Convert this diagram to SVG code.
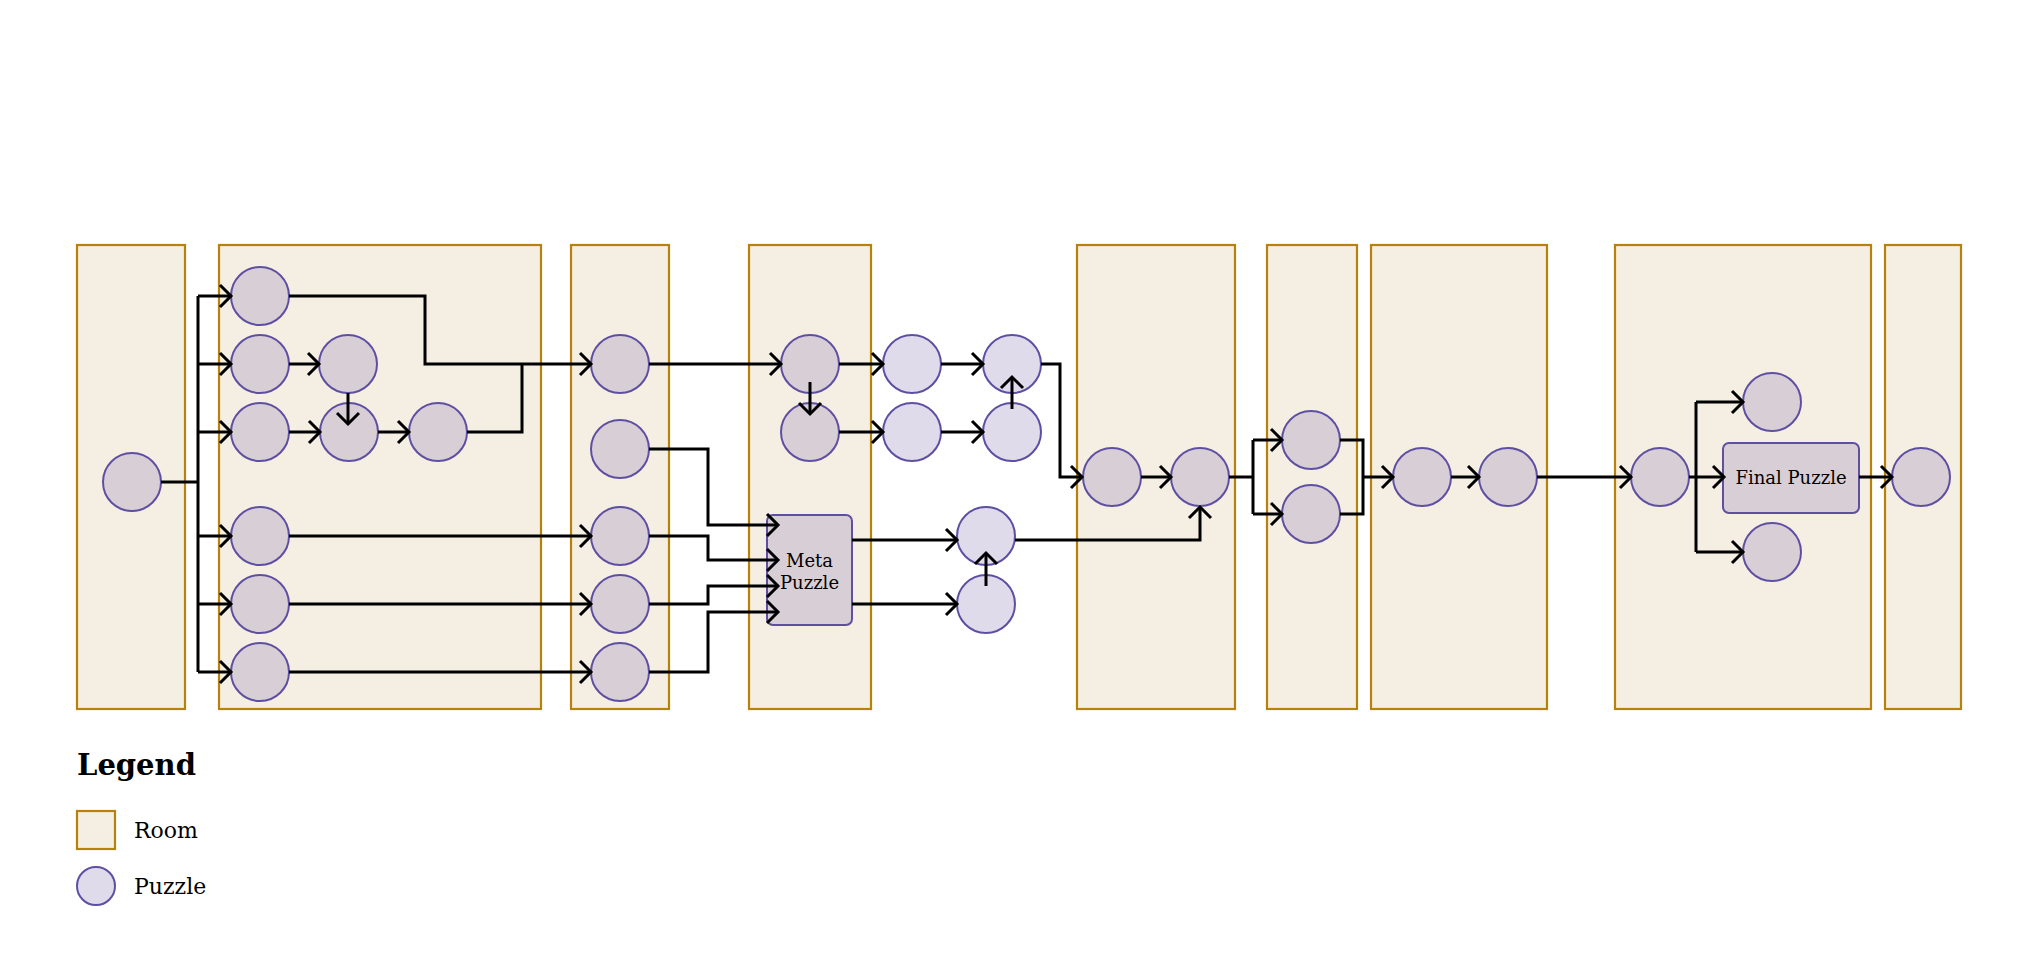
<svg xmlns="http://www.w3.org/2000/svg" width="2040" height="974" viewBox="0 0 2040 974">
<style>
.room{fill:#f5eee2;stroke:#b8820a;stroke-width:2.2}
.pz{fill:#d8cfd6;stroke:#5e4fa2;stroke-width:2}
.pzo{fill:#e0dbeb;stroke:#5e4fa2;stroke-width:2}
.ln{fill:none;stroke:#000;stroke-width:3}
.ar{marker-end:url(#arr)}
.t{font-family:"DejaVu Serif","Liberation Serif",serif;fill:#000}
</style>
<defs>
<marker id="arr" markerUnits="userSpaceOnUse" viewBox="-14 -14 16 28" markerWidth="16" markerHeight="28" refX="0" refY="0" orient="auto" overflow="visible">
<path d="M-11,-11 L0,0 L-11,11" fill="none" stroke="#000" stroke-width="3"/>
</marker>
</defs>
<rect width="2040" height="974" fill="#fff"/>
<g id="rooms">
<rect id="room1" class="room" x="77" y="245" width="108" height="464"/>
<rect id="room2" class="room" x="219" y="245" width="322" height="464"/>
<rect id="room3" class="room" x="571" y="245" width="98" height="464"/>
<rect id="room4" class="room" x="749" y="245" width="122" height="464"/>
<rect id="room5" class="room" x="1077" y="245" width="158" height="464"/>
<rect id="room6" class="room" x="1267" y="245" width="90" height="464"/>
<rect id="room7" class="room" x="1371" y="245" width="176" height="464"/>
<rect id="room8" class="room" x="1615" y="245" width="256" height="464"/>
<rect id="room9" class="room" x="1885" y="245" width="76" height="464"/>
</g>
<g id="puzzles">
<g id="p-start"><circle class="pz" cx="132" cy="482" r="29"/></g>
<g id="p2a"><circle class="pz" cx="260" cy="296" r="29"/></g>
<g id="p2b"><circle class="pz" cx="260" cy="364" r="29"/></g>
<g id="p2c"><circle class="pz" cx="348" cy="364" r="29"/></g>
<g id="p2d"><circle class="pz" cx="260" cy="432" r="29"/></g>
<g id="p2e"><circle class="pz" cx="349" cy="432" r="29"/></g>
<g id="p2f"><circle class="pz" cx="438" cy="432" r="29"/></g>
<g id="p2g"><circle class="pz" cx="260" cy="536" r="29"/></g>
<g id="p2h"><circle class="pz" cx="260" cy="604" r="29"/></g>
<g id="p2i"><circle class="pz" cx="260" cy="672" r="29"/></g>
<g id="p3a"><circle class="pz" cx="620" cy="364" r="29"/></g>
<g id="p3b"><circle class="pz" cx="620" cy="449" r="29"/></g>
<g id="p3c"><circle class="pz" cx="620" cy="536" r="29"/></g>
<g id="p3d"><circle class="pz" cx="620" cy="604" r="29"/></g>
<g id="p3e"><circle class="pz" cx="620" cy="672" r="29"/></g>
<g id="p4a"><circle class="pz" cx="810" cy="364" r="29"/></g>
<g id="p4b"><circle class="pz" cx="810" cy="432" r="29"/></g>
<g id="meta"><rect class="pz" x="767" y="515" width="85" height="110" rx="6"/><text class="t" x="809.5" y="567" font-size="18" text-anchor="middle">Meta</text><text class="t" x="809.5" y="589" font-size="18" text-anchor="middle">Puzzle</text></g>
<g id="o1"><circle class="pzo" cx="912" cy="364" r="29"/></g>
<g id="o2"><circle class="pzo" cx="912" cy="432" r="29"/></g>
<g id="o3"><circle class="pzo" cx="1012" cy="364" r="29"/></g>
<g id="o4"><circle class="pzo" cx="1012" cy="432" r="29"/></g>
<g id="o5"><circle class="pzo" cx="986" cy="536" r="29"/></g>
<g id="o6"><circle class="pzo" cx="986" cy="604" r="29"/></g>
<g id="p5a"><circle class="pz" cx="1112" cy="477" r="29"/></g>
<g id="p5b"><circle class="pz" cx="1200" cy="477" r="29"/></g>
<g id="p6a"><circle class="pz" cx="1311" cy="440" r="29"/></g>
<g id="p6b"><circle class="pz" cx="1311" cy="514" r="29"/></g>
<g id="p7a"><circle class="pz" cx="1422" cy="477" r="29"/></g>
<g id="p7b"><circle class="pz" cx="1508" cy="477" r="29"/></g>
<g id="p8a"><circle class="pz" cx="1660" cy="477" r="29"/></g>
<g id="p8b"><circle class="pz" cx="1772" cy="402" r="29"/></g>
<g id="p8c"><circle class="pz" cx="1772" cy="552" r="29"/></g>
<g id="final"><rect class="pz" x="1723" y="443" width="136" height="70" rx="6"/><text class="t" x="1791" y="484" font-size="18" text-anchor="middle">Final Puzzle</text></g>
<g id="p9"><circle class="pz" cx="1921" cy="477" r="29"/></g>
</g>
<g id="connectors">
<path class="ln" d="M161,482 H198 M198,296 V672"/>
<path class="ln ar" d="M198,296 H231"/>
<path class="ln ar" d="M198,364 H231"/>
<path class="ln ar" d="M198,432 H231"/>
<path class="ln ar" d="M198,536 H231"/>
<path class="ln ar" d="M198,604 H231"/>
<path class="ln ar" d="M198,672 H231"/>
<path class="ln ar" d="M289,296 H425 V364 H591"/>
<path class="ln ar" d="M289,364 H319"/>
<path class="ln ar" d="M348,393 V424"/>
<path class="ln ar" d="M289,432 H320"/>
<path class="ln ar" d="M378,432 H409"/>
<path class="ln" d="M467,432 H522 V364"/>
<path class="ln ar" d="M289,536 H591"/>
<path class="ln ar" d="M289,604 H591"/>
<path class="ln ar" d="M289,672 H591"/>
<path class="ln ar" d="M649,364 H781"/>
<path class="ln ar" d="M649,449 H708 V525 H778"/>
<path class="ln ar" d="M649,536 H708 V560 H778"/>
<path class="ln ar" d="M649,604 H708 V586 H778"/>
<path class="ln ar" d="M649,672 H708 V612 H778"/>
<path class="ln ar" d="M839,364 H883"/>
<path class="ln ar" d="M839,432 H883"/>
<path class="ln ar" d="M810,382 V414"/>
<path class="ln ar" d="M941,364 H983"/>
<path class="ln ar" d="M941,432 H983"/>
<path class="ln ar" d="M1012,409 V377"/>
<path class="ln ar" d="M1041,364 H1060 V477 H1082"/>
<path class="ln ar" d="M852,540 H957"/>
<path class="ln ar" d="M852,604 H957"/>
<path class="ln ar" d="M986,586 V553"/>
<path class="ln ar" d="M1015,540 H1200 V507"/>
<path class="ln ar" d="M1141,477 H1171"/>
<path class="ln" d="M1229,477 H1253 M1253,440 V514"/>
<path class="ln ar" d="M1253,440 H1282"/>
<path class="ln ar" d="M1253,514 H1282"/>
<path class="ln" d="M1340,440 H1363 V514 H1340"/>
<path class="ln ar" d="M1363,477 H1393"/>
<path class="ln ar" d="M1451,477 H1479"/>
<path class="ln ar" d="M1537,477 H1631"/>
<path class="ln ar" d="M1689,477 H1724"/>
<path class="ln" d="M1696,402 V552"/>
<path class="ln ar" d="M1696,402 H1743"/>
<path class="ln ar" d="M1696,552 H1743"/>
<path class="ln ar" d="M1859,477 H1892"/>
</g>
<g id="legend">
<text class="t" x="77" y="775" font-size="29" font-weight="bold">Legend</text>
<rect class="room" x="77" y="811" width="38" height="38"/>
<text class="t" x="134" y="838" font-size="22">Room</text>
<circle class="pzo" cx="96" cy="886" r="19"/>
<text class="t" x="134" y="894" font-size="22">Puzzle</text>
</g>
</svg>
